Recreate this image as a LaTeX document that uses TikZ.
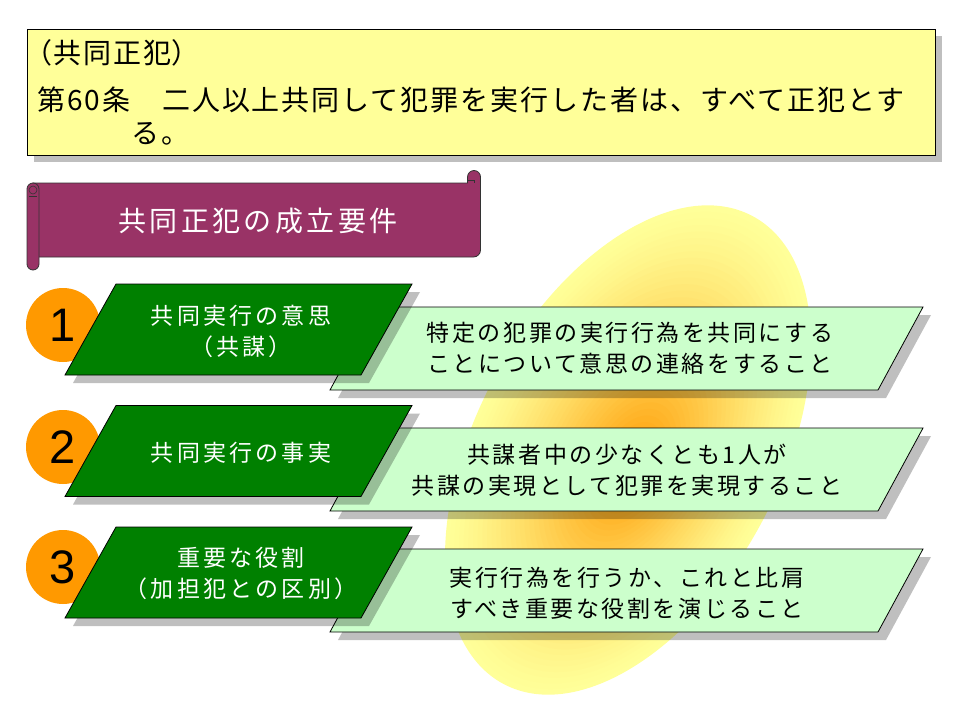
\documentclass[tikz,border=0pt]{standalone}
\usepackage{fontspec}
\setmainfont{Liberation Sans}
\newfontfamily\jpTopA[RawFeature=+palt,LetterSpace=7]{Noto Sans CJK JP}
\newfontfamily\jpTop[LetterSpace=7]{Noto Sans CJK JP}
\newfontfamily\jpBan[LetterSpace=12]{Noto Sans CJK JP}
\newfontfamily\jpG[LetterSpace=14]{Noto Sans CJK JP}
\newfontfamily\jpL[LetterSpace=11]{Noto Sans CJK JP}
\definecolor{topyellow}{HTML}{FFFF99}
\definecolor{bannerc}{HTML}{993366}
\definecolor{dkgreen}{HTML}{008000}
\definecolor{ltgreen}{HTML}{CCFFCC}
\definecolor{numorange}{HTML}{FF9900}
\definecolor{blobout}{HTML}{FFFF99}
\definecolor{blobin}{HTML}{FF9900}
\begin{document}
\begin{tikzpicture}[x=1pt,y=-1pt,
  shadowc/.style={fill=black,fill opacity=0.25,draw=none},
  gbox/.style={fill=dkgreen,draw=black,line width=0.8pt},
  lbox/.style={fill=ltgreen,draw=black,line width=0.8pt},
  numc/.style={circle,fill=numorange,minimum size=74pt,inner sep=0pt,
     font=\fontsize{47}{47}\selectfont},
  bannerst/.style={fill=bannerc,draw=black!80,line width=0.8pt},
  gtext/.style={text=white,align=center,inner sep=0pt,font=\jpG\fontsize{23}{31}\selectfont},
  ltext/.style={text=black,align=center,inner sep=0pt,font=\jpL\fontsize{23}{31}\selectfont},
  toptext/.style={text=black,anchor=west,inner sep=0pt,font=\jpTop\fontsize{28}{28}\selectfont}]
\useasboundingbox (0,0) rectangle (960,720);
\fill[white] (0,0) rectangle (960,720);

% background blob with radial gradient
\foreach \i in {0,...,39}{
  \pgfmathsetmacro\s{1-\i/40}
  \pgfmathsetmacro\p{100*(\i/40)*sqrt(sqrt(\i/40))}
  \pgfmathsetmacro\cx{632+\s*(628-632)}
  \pgfmathsetmacro\cy{468+\s*(450-468)}
  \fill[blobin!\p!blobout, rotate around={62:(\cx,\cy)}] (\cx,\cy) ellipse [x radius=265*\s, y radius=152*\s];
}

% top law box
\fill[shadowc] (34,36) rectangle (942,162);
\draw[fill=topyellow,draw=black,line width=0.8pt] (27,29) rectangle (935,155);
\node[toptext,font=\jpTopA\fontsize{28}{28}\selectfont] (t1) at (37,53) {（共同正犯）};
\node[toptext] (t2) at (37,100) {第60条　二人以上共同して犯罪を実行した者は、すべて正犯とす};
\node[toptext] (t3) at (131,134) {る。};

% banner (scroll)
\draw[bannerst] (33,183) -- (467.5,183) -- (467.5,177) arc[start angle=180,end angle=360,radius=6.5]
   -- (480.5,250) arc[start angle=0,end angle=90,radius=7] -- (33,257) -- cycle;
\draw[black!80,line width=0.6pt] (468,180) -- (474,180) -- (474,183);
\draw[bannerst,rounded corners=6] (27,183) rectangle (39,270);
\draw[black!80,line width=0.6pt] (33,190) circle (4);
\draw[black!80,line width=0.6pt] (29,196) -- (37,196);
\node[text=white,inner sep=0pt,font=\jpBan\fontsize{28}{28}\selectfont] (ban) at (258,221) {共同正犯の成立要件};

% rows
\foreach \T/\U in {284/307, 405.5/428, 527/549}{
  \fill[shadowc,shift={(8,8)}] (375,\U) -- (923,\U) -- (878,\U+83) -- (330,\U+83) -- cycle;
  \draw[lbox] (375,\U) -- (923,\U) -- (878,\U+83) -- (330,\U+83) -- cycle;
}
\node[numc] (c1) at (63,325) {1};
\node[numc] (c2) at (63,447) {2};
\node[numc] (c3) at (63,567) {3};
\foreach \T/\U in {284/307, 405.5/428, 527/549}{
  \fill[shadowc,shift={(8,8)}] (116,\T) -- (412,\T) -- (361,\T+91) -- (65,\T+91) -- cycle;
  \draw[gbox] (116,\T) -- (412,\T) -- (361,\T+91) -- (65,\T+91) -- cycle;
}

\node[gtext] (g1) at (241,331) {共同実行の意思\\（共謀）};
\node[gtext] (g2) at (241,453) {共同実行の事実};
\node[gtext] (g3) at (241,573) {重要な役割\\（加担犯との区別）};

\node[ltext] (l1) at (630,348) {特定の犯罪の実行行為を共同にする\\ことについて意思の連絡をすること};
\node[ltext] (l2) at (627,470) {共謀者中の少なくとも1人が\\共謀の実現として犯罪を実現すること};
\node[ltext] (l3) at (627,593) {実行行為を行うか、これと比肩\\すべき重要な役割を演じること};
\end{tikzpicture}
\end{document}
